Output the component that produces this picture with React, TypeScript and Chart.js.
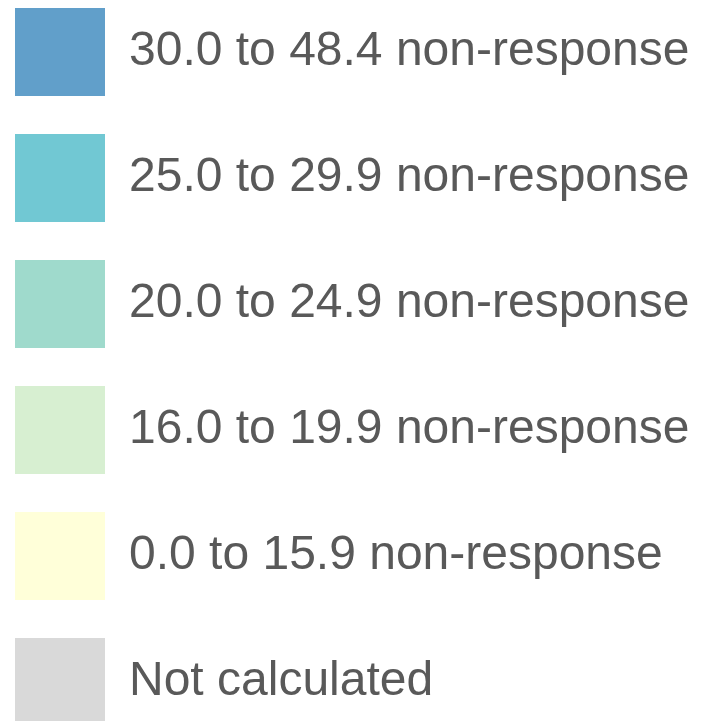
import React, { useEffect, useRef } from "react";
import { Chart, registerables } from "chart.js";

Chart.register(...registerables);

// Legend categories (classes of non-response) and their fill colours
const categoryLabels: string[] = [
  "30.0 to 48.4 non-response",
  "25.0 to 29.9 non-response",
  "20.0 to 24.9 non-response",
  "16.0 to 19.9 non-response",
  "0.0 to 15.9 non-response",
  "Not calculated",
];

const categoryColors: string[] = [
  "#619fca",
  "#71c8d3",
  "#9fdacc",
  "#d7efd1",
  "#ffffd9",
  "#d9d9d9",
];

// No data values are shown in the reference; each class is a legend entry only
const categoryValues: number[][] = [[], [], [], [], [], []];

export default function App() {
  const canvasRef = useRef<HTMLCanvasElement | null>(null);

  useEffect(() => {
    const canvas = canvasRef.current;
    if (!canvas) return;
    const chart = new Chart(canvas, {
      type: "bar",
      data: {
        labels: [],
        datasets: categoryLabels.map((label, i) => ({
          label,
          data: categoryValues[i],
          backgroundColor: categoryColors[i],
          borderWidth: 0,
        })),
      },
      options: {
        animation: false,
        responsive: false,
        devicePixelRatio: 1,
        layout: { padding: 0 },
        scales: {
          x: { display: false },
          y: { display: false },
        },
        plugins: {
          tooltip: { enabled: false },
          legend: {
            display: true,
            position: "top",
            align: "start",
            onClick: () => {},
            labels: {
              boxWidth: 90,
              boxHeight: 88,
              padding: 38,
              color: "#595959",
              font: {
                family: "'Liberation Sans', Arial, sans-serif",
                size: 48,
              },
            },
          },
        },
      },
    });
    return () => chart.destroy();
  }, []);

  return (
    <div
      style={{
        position: "fixed",
        left: 0,
        top: 0,
        width: 711,
        height: 721,
        overflow: "hidden",
        background: "#ffffff",
      }}
    >
      <canvas
        ref={canvasRef}
        width={734}
        height={1600}
        style={{ position: "absolute", left: -23, top: -30, width: 734, height: 1600 }}
      />
    </div>
  );
}
